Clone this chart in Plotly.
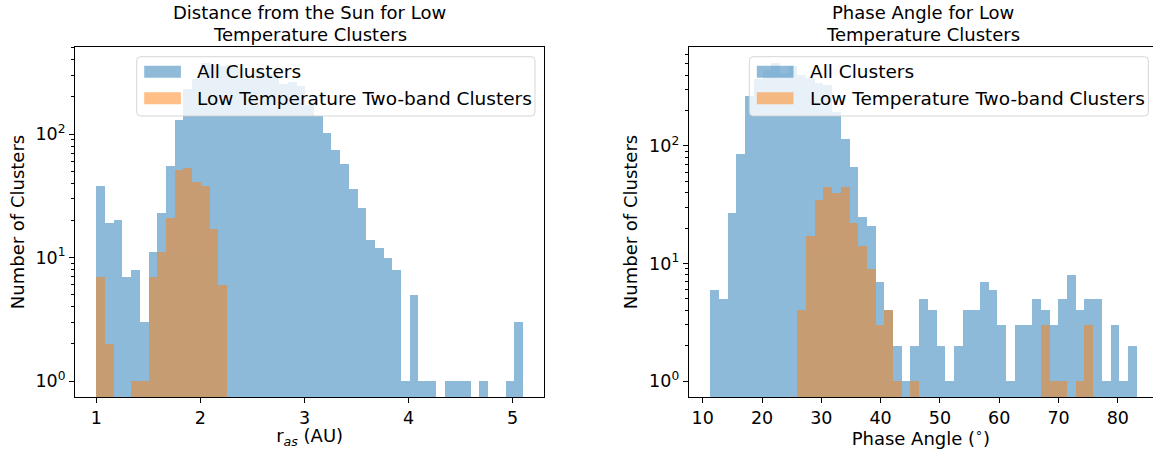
import numpy as np
import plotly.graph_objects as go

# ---------------- data ----------------
# Left panel: heliocentric distance histogram (49 bins from 1.0 to 5.1 AU)
R_BIN_START, R_BIN_END, R_NBINS = 1.0, 5.1, 49
r_all = [38, 19, 20, 7, 8, 3, 11, 23, 55, 131, 230, 277, 377, 362, 355, 365, 340,
         281, 330, 320, 300, 256, 262, 245, 171, 139, 103, 75, 57, 36, 25, 14, 12,
         10, 8, 1, 5, 1, 1, 0, 1, 1, 1, 0, 1, 0, 0, 1, 3]
r_low = [7, 2, 0, 0, 1, 1, 7, 11, 21, 51, 53, 41, 38, 17, 6, 0, 0, 0, 0, 0, 0, 0,
         0, 0, 0, 0, 0, 0, 0, 0, 0, 0, 0, 0, 0, 0, 0, 0, 0, 0, 0, 0, 0, 0, 0, 0,
         0, 0, 0]

# Right panel: phase angle histogram (49 bins from 11.23 to 83.13 deg)
P_BIN_START, P_BIN_END, P_NBINS = 11.23, 83.13, 49
p_all = [6, 5, 27, 86, 266, 370, 440, 508, 420, 480, 400, 380, 340, 330, 195, 114,
         66, 25, 21, 7, 4, 2, 1, 2, 5, 4, 2, 1, 2, 4, 4, 7, 6, 3, 1, 3, 3, 5, 4, 3,
         5, 8, 4, 5, 5, 1, 3, 1, 2]
p_low = [0, 0, 0, 0, 0, 0, 0, 0, 0, 0, 4, 17, 35, 45, 40, 45, 22, 14, 9, 3, 4, 1,
         0, 1, 0, 0, 0, 0, 0, 0, 0, 0, 0, 0, 0, 0, 0, 0, 3, 1, 1, 0, 1, 3, 0, 0,
         0, 0, 0]

legend_names = ["All Clusters", "Low Temperature Two-band Clusters"]
titles = [["Distance from the Sun for Low", "Temperature Clusters"],
          ["Phase Angle for Low", "Temperature Clusters"]]
xlabels = ["r<sub><i>as</i></sub> (AU)", "Phase Angle (<sup>∘</sup>)"]
ylabel = "Number of Clusters"
left_xticks = [1, 2, 3, 4, 5]
right_xticks = [10, 20, 30, 40, 50, 60, 70, 80]
ytick_vals = [1, 10, 100]
ytick_text = ["10<sup>0</sup>", "10<sup>1</sup>", "10<sup>2</sup>"]

# ---------------- layout helpers ----------------
W, H = 1153, 449
ML, MR, MT, MB = 75, 0, 47, 52
PW, PH = W - ML - MR, H - MT - MB
FONT = "DejaVu Sans"
BLUE, ORANGE = "#1f77b4", "#ff7f0e"
TXT = 18
TICK = 17.5


def px(x):
    return (x - ML) / PW


def py(y):
    return (H - MB - y) / PH


def centers(start, end, n):
    edges = np.linspace(start, end, n + 1)
    return (edges[:-1] + edges[1:]) / 2, (end - start) / n


def nz(v):
    return [c if c > 0 else None for c in v]


def log_range(vmax):
    b = np.log10(vmax)
    return [-0.05 * b, 1.05 * b]


fig = go.Figure()

rc, rw = centers(R_BIN_START, R_BIN_END, R_NBINS)
pc, pw = centers(P_BIN_START, P_BIN_END, P_NBINS)

for xs, w, ys, col, name, xa, ya in [
    (rc, rw, r_all, BLUE, legend_names[0], "x", "y"),
    (rc, rw, r_low, ORANGE, legend_names[1], "x", "y"),
    (pc, pw, p_all, BLUE, legend_names[0], "x2", "y2"),
    (pc, pw, p_low, ORANGE, legend_names[1], "x2", "y2"),
]:
    fig.add_trace(go.Bar(x=xs, y=nz(ys), width=w, name=name, xaxis=xa, yaxis=ya,
                         marker=dict(color=col, line=dict(width=0)), opacity=0.5,
                         showlegend=False))

# axis geometry (pixels)
L_X0, L_X1 = 75.3, 544.3
R_X0 = 688.7
AX_W = 469.0


def lin_range(start, end):
    m = 0.05 * (end - start)
    return [start - m, end + m]


lr = lin_range(R_BIN_START, R_BIN_END)
prr = lin_range(P_BIN_START, P_BIN_END)
# right axes extends past the image edge; show only visible part
scale_r = AX_W / (prr[1] - prr[0])
prr_vis = [prr[0], prr[0] + (W - R_X0) / scale_r]

minor_vals = [m * 10 ** d for d in range(0, 3) for m in range(2, 10)]

common_ax = dict(showgrid=False, zeroline=False, showline=True, linecolor="black",
                 linewidth=1, ticks="outside", ticklen=5, tickwidth=1,
                 tickcolor="black", tickfont=dict(family=FONT, size=TICK, color="black"))
minor = dict(ticks="outside", ticklen=3, tickwidth=1, tickcolor="black",
             tickvals=minor_vals)

fig.update_layout(
    width=W, height=H, margin=dict(l=ML, r=MR, t=MT, b=MB),
    paper_bgcolor="white", plot_bgcolor="white", barmode="overlay", bargap=0,
    font=dict(family=FONT, color="black", size=TXT),
    xaxis=dict(domain=[0, px(L_X1)], range=lr, tickvals=left_xticks, mirror=True,
               title=dict(text=xlabels[0], font=dict(family=FONT, size=TXT), standoff=6),
               anchor="y", **common_ax),
    yaxis=dict(type="log", range=log_range(max(r_all)), tickvals=ytick_vals,
               ticktext=ytick_text, mirror=True, anchor="x", minor=minor,
               title=dict(text=ylabel, font=dict(family=FONT, size=TXT), standoff=6),
               **common_ax),
    xaxis2=dict(domain=[px(R_X0), 1], range=prr_vis, tickvals=right_xticks,
                mirror=True, anchor="y2",
                title=dict(text=xlabels[1], font=dict(family=FONT, size=TXT), standoff=6),
                **common_ax),
    yaxis2=dict(type="log", range=log_range(max(p_all)), tickvals=ytick_vals,
                ticktext=ytick_text, mirror=False, anchor="x2", minor=minor,
                title=dict(text=ylabel, font=dict(family=FONT, size=TXT), standoff=6),
                **common_ax),
)

# titles (two lines each)
for cx, lines in [((L_X0 + L_X1) / 2, titles[0]), (R_X0 + AX_W / 2, titles[1])]:
    for i, t in enumerate(lines):
        fig.add_annotation(x=px(cx), y=py(13 + 21 * i), xref="paper", yref="paper",
                           text=t, showarrow=False, xanchor="center", yanchor="middle",
                           font=dict(family=FONT, size=TXT, color="black"))


# manual matplotlib-like legends
def rrect(x0, y0, x1, y1, r=4):
    X0, X1, Y0, Y1 = px(x0), px(x1), py(y0), py(y1)
    rx, ry = r / PW, r / PH
    return (f"M{X0+rx},{Y0} L{X1-rx},{Y0} Q{X1},{Y0} {X1},{Y0-ry} "
            f"L{X1},{Y1+ry} Q{X1},{Y1} {X1-rx},{Y1} L{X0+rx},{Y1} "
            f"Q{X0},{Y1} {X0},{Y1+ry} L{X0},{Y0-ry} Q{X0},{Y0} {X0+rx},{Y0} Z")


def add_legend(box_x0, box_x1):
    fig.add_shape(type="path", path=rrect(box_x0, 56.7, box_x1, 116.0), xref="paper",
                  yref="paper", fillcolor="rgba(255,255,255,0.8)",
                  line=dict(color="rgba(204,204,204,0.8)", width=1), layer="above")
    for i, (col, name) in enumerate([(BLUE, legend_names[0]), (ORANGE, legend_names[1])]):
        cy = 71.7 + i * 26.6
        fig.add_shape(type="rect", x0=px(box_x0 + 7.5), x1=px(box_x0 + 44.2),
                      y0=py(cy - 6), y1=py(cy + 6), xref="paper", yref="paper",
                      fillcolor=col, opacity=0.5, line=dict(width=0), layer="above")
        fig.add_annotation(x=px(box_x0 + 58.5), y=py(cy), xref="paper", yref="paper",
                           text=name, showarrow=False, xanchor="left", yanchor="middle",
                           font=dict(family=FONT, size=18.5, color="black"))


add_legend(136.7, 535.0)
add_legend(749.3, 1148.4)

fig.write_html("out.html")
